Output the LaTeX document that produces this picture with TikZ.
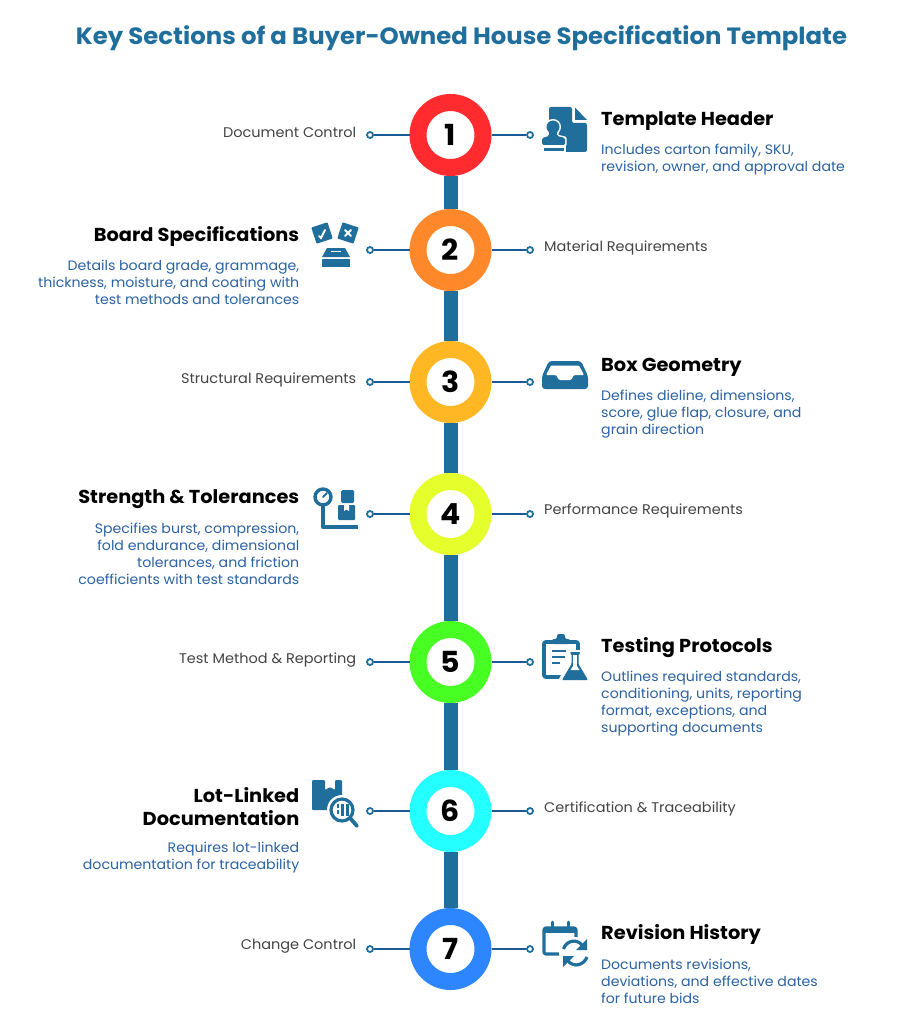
\documentclass[tikz,border=0pt]{standalone}
\usepackage{fontspec}
\setmainfont[FakeStretch=1.035]{Poppins}
\definecolor{ink}{HTML}{1F6E9C}
\definecolor{wire}{HTML}{1A5A96}
\definecolor{bodyblue}{HTML}{2B62A3}
\definecolor{sidegrey}{HTML}{444444}
\definecolor{r1}{HTML}{FF2B2E}
\definecolor{r2}{HTML}{FF882A}
\definecolor{r3}{HTML}{FFB824}
\definecolor{r4}{HTML}{E4FF2C}
\definecolor{r5}{HTML}{48FF24}
\definecolor{r6}{HTML}{24FFFF}
\definecolor{r7}{HTML}{2E86FF}
\tikzset{
 x=1pt,y=-1pt,
 ring/.style={circle,draw=#1,line width=17pt,fill=white,minimum size=65pt,inner sep=0pt,font=\bfseries\fontsize{29}{29}\selectfont,text=black},
 spine/.style={draw=ink,line width=14pt},
 wireline/.style={draw=wire,line width=1.6pt},
 dot/.style={circle,draw=ink,line width=1.8pt,fill=white,minimum size=6pt,inner sep=0pt},
 sidelabel/.style={inner sep=0pt,text=sidegrey,font=\fontsize{14}{17}\selectfont},
 headr/.style={inner sep=0pt,anchor=west,align=left,text=black,font=\bfseries\fontsize{18.7}{23}\selectfont},
 headl/.style={inner sep=0pt,anchor=east,align=right,text=black,font=\bfseries\fontsize{18.7}{23}\selectfont},
 bodyr/.style={inner sep=0pt,anchor=west,align=left,text=bodyblue,font=\fontsize{13.65}{17}\selectfont},
 bodyl/.style={inner sep=0pt,anchor=east,align=right,text=bodyblue,font=\fontsize{13.65}{17}\selectfont},
 ico/.style={fill=ink,draw=none},
 cut/.style={fill=white,draw=none},
 icoline/.style={draw=ink,fill=none,line cap=round,line join=round},
}
\begin{document}
\begin{tikzpicture}
\useasboundingbox (0,0) rectangle (897,1024);
\fill[white] (0,0) rectangle (897,1024);
\node[inner sep=0pt,text=ink,font=\bfseries\fontsize{23.55}{26}\selectfont] (title) at (461.5,38) {Key Sections of a Buyer-Owned House Specification Template};
% rings
\node[ring=r1] (c1) at (450.5,135) {1};
\node[ring=r2] (c2) at (450.5,250) {2};
\node[ring=r3] (c3) at (450.5,382) {3};
\node[ring=r4] (c4) at (450.5,514) {4};
\node[ring=r5] (c5) at (450.5,662) {5};
\node[ring=r6] (c6) at (450.5,811) {6};
\node[ring=r7] (c7) at (450.5,949) {7};
\foreach \a/\b in {c1/c2,c2/c3,c3/c4,c4/c5,c5/c6,c6/c7} \draw[spine] (\a) -- (\b);
% connector dots
\foreach \i/\y in {1/135,2/250,3/382,4/514,5/662,6/811,7/949}{
  \node[dot] (l\i) at (370,\y) {};
  \node[dot] (r\i) at (530,\y) {};
  \draw[wireline] (l\i) -- (c\i);
  \draw[wireline] (c\i) -- (r\i);
}
% side labels
\node[sidelabel,anchor=east] (s1) at (356.5,132.5) {Document Control};
\node[sidelabel,anchor=west] (s2) at (544,248) {Material Requirements};
\node[sidelabel,anchor=east] (s3) at (356.5,380) {Structural Requirements};
\node[sidelabel,anchor=west] (s4) at (544,511) {Performance Requirements};
\node[sidelabel,anchor=east] (s5) at (356.5,660) {Test Method \& Reporting};
\node[sidelabel,anchor=west] (s6) at (544,809) {Certification \& Traceability};
\node[sidelabel,anchor=east] (s7) at (356.5,946.5) {Change Control};
% headings and bodies
\node[headr] (h1) at (601,121) {Template Header};
\node[bodyr] (b1) at (601,159.5) {Includes carton family, SKU,\\revision, owner, and approval date};
\node[headl] (h2) at (299.5,236) {Board Specifications};
\node[bodyl] (b2) at (299.5,282) {Details board grade, grammage,\\thickness, moisture, and coating with\\test methods and tolerances};
\node[headr] (h3) at (601,367) {Box Geometry};
\node[bodyr] (b3) at (601,414) {Defines dieline, dimensions,\\score, glue flap, closure, and\\grain direction};
\node[headl] (h4) at (299.5,499) {Strength \& Tolerances};
\node[bodyl] (b4) at (299.5,553.5) {Specifies burst, compression,\\fold endurance, dimensional\\tolerances, and friction\\coefficients with test standards};
\node[headr] (h5) at (601,648) {Testing Protocols};
\node[bodyr] (b5) at (601,703.5) {Outlines required standards,\\conditioning, units, reporting\\format, exceptions, and\\supporting documents};
\node[headl] (h6) at (299.5,806.5) {Lot-Linked\\Documentation};
\node[bodyl] (b6) at (299.5,857.5) {Requires lot-linked\\documentation for traceability};
\node[headr] (h7) at (601,934) {Revision History};
\node[bodyr] (b7) at (601,981) {Documents revisions,\\deviations, and effective dates\\for future bids};
% icon 1: document with stamp
\path[ico,rounded corners=2pt] (549,107) -- (572,107) -- (572,123) -- (587,123) -- (587,152) -- (549,152) -- cycle;
\path[ico] (575,107.5) -- (587,120) -- (575,120) -- cycle;
\path[ico,draw=white,line width=3pt,line join=round] (553,127) circle (6.5);
\path[ico,draw=white,line width=3pt,line join=round] (549,132) -- (557,132) -- (557,136) -- (565,138) -- (565,145) -- (542,145) -- (542,138) -- (549,136) -- cycle;
\path[ico,draw=white,line width=2pt] (542.5,147.5) rectangle (565,152.5);
\path[ico] (553,127) circle (6.5);
\path[ico,rounded corners=1.5pt] (549,130) -- (557,130) -- (557,136) -- (565,138) -- (565,145) -- (542,145) -- (542,138) -- (549,136) -- cycle;
% icon 2: ballot box
\path[ico,rounded corners=1pt,rotate around={18:(322,233)}] (313.5,224.5) rectangle (330.5,241.5);
\path[ico,rounded corners=1pt,rotate around={-18:(348,233)}] (339.5,224.5) rectangle (356.5,241.5);
\draw[white,line width=1.8pt,line cap=round] (319,236) -- (321,238) -- (325,230);
\draw[white,line width=2pt,line cap=round] (345,230) -- (351,236) (351,230) -- (345,236);
\path[ico] (327,248) -- (345,248) -- (350,257) -- (322,257) -- cycle;
\path[cut] (331,250.5) rectangle (341,252);
\path[ico] (322,258.5) rectangle (350,267);
% icon 3: tray
\path[ico,rounded corners=3pt] (549,361) -- (581,361) -- (588,376) -- (588,389) -- (542,389) -- (542,376) -- cycle;
\path[cut,rounded corners=1pt] (551,365.5) -- (579,365.5) -- (584,375) -- (574,375) -- (571,380) -- (559,380) -- (556,375) -- (546,375) -- cycle;
% icon 4: scale
\draw[icoline,line width=3.4pt] (323,497) circle (8);
\draw[icoline,line width=1.8pt] (323,497) -- (327,493);
\draw[icoline,line width=4pt,line cap=butt] (323,505) -- (323,527) -- (358,527);
\path[ico,rounded corners=1.5pt] (341,490) rectangle (354,503);
\path[ico,rounded corners=1pt] (338,505) rectangle (355,520);
\path[cut] (344,505) -- (349,505) -- (349,511) -- (346.5,509.5) -- (344,511) -- cycle;
% icon 5: clipboard + flask
\draw[icoline,line width=3.8pt,rounded corners=2pt] (544,642) rectangle (578,677);
\path[ico,rounded corners=2pt] (552,639) -- (557,639) -- (557,634) -- (565,634) -- (565,639) -- (570,639) -- (570,644) -- (552,644) -- cycle;
\draw[icoline,line width=2.6pt,line cap=butt] (552,651) -- (566,651) (552,657) -- (565,657) (552,663) -- (560,663);
\path[cut] (568,650) -- (582,650) -- (582,662) -- (591,679) -- (591,682) -- (559,682) -- (559,679) -- (568,662) -- cycle;
\path[ico,rounded corners=1pt] (570,652) -- (580,652) -- (580,654) -- (578.5,654) -- (578.5,664) -- (588,680) -- (562,680) -- (571.5,664) -- (571.5,654) -- (570,654) -- cycle;
\path[cut] (573,655) rectangle (577,666);
\path[cut] (573,666) -- (577,666) -- (579.5,670) -- (570.5,670) -- cycle;
% icon 6: box + magnifier
\path[ico,rounded corners=1pt] (312,780) -- (325,780) -- (325,790) -- (330,787) -- (335,790) -- (335,780) -- (342,780) -- (342,810) -- (312,810) -- cycle;
\path[cut] (342,810) circle (15);
\draw[icoline,line width=3.2pt] (342,810) circle (11);
\draw[icoline,line width=3.8pt] (350.5,818.5) -- (357,826);
\path[ico] (336.5,804) rectangle (339,807.5);
\path[ico] (336.5,810) rectangle (339,813.5);
\path[ico] (341,804) rectangle (344,816);
\path[ico] (346,804) rectangle (349,816);
% icon 7: calendar + refresh
\draw[icoline,line width=3.2pt,rounded corners=2pt] (544,928) rectangle (576,954);
\path[ico] (544,928) rectangle (576,933);
\draw[icoline,line width=3pt,line cap=round] (552,922) -- (552,930) (568,922) -- (568,930);
\path[cut] (575,953) circle (16);
\draw[icoline,line width=3.2pt,line cap=butt] (563.5,949) .. controls (566,941) and (576,938) .. (582,945);
\path[ico] (587,939) -- (587,950) -- (576,950) -- cycle;
\draw[icoline,line width=3.2pt,line cap=butt] (587,957) .. controls (584,965) and (574,968) .. (568,961);
\path[ico] (563,967) -- (563,956) -- (574,956) -- cycle;
\end{tikzpicture}
\end{document}
